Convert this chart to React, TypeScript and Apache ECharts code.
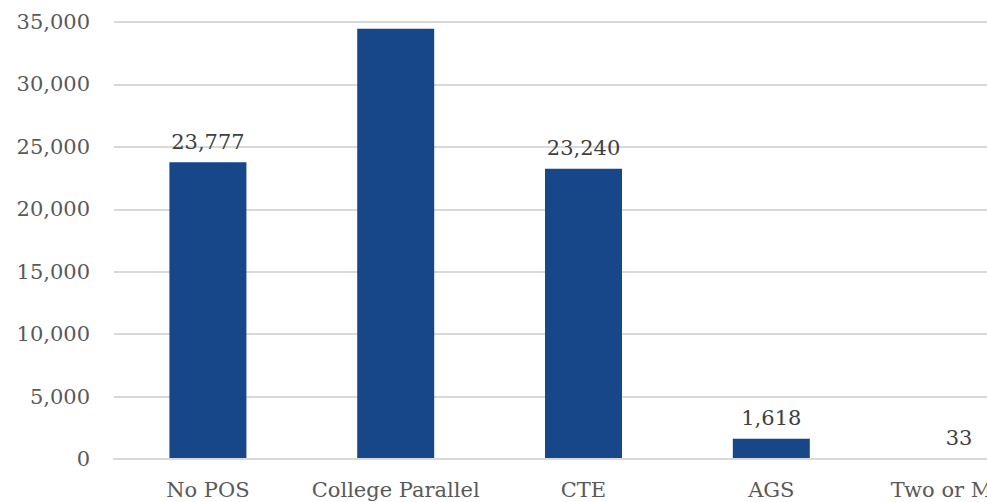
import React, { useEffect, useRef } from "react";
import * as echarts from "echarts";

// Enrollment by program of study
const categories = ["No POS", "College Parallel", "CTE", "AGS", "Two or More"];
const counts = [23777, 34450, 23240, 1618, 33];
// Which bars carry a value label
const showLabel = [true, false, true, true, true];
const yTicks = { min: 0, max: 35000, interval: 5000 };

const FONT = "'DejaVu Serif', Georgia, serif";
const TEXT = "#595959";

export default function App() {
  const ref = useRef<HTMLDivElement>(null);

  useEffect(() => {
    if (!ref.current) return;
    const chart = echarts.init(ref.current, null, { renderer: "svg" });
    chart.setOption({
      animation: false,
      backgroundColor: "#ffffff",
      grid: { left: 114, right: 0, top: 22, bottom: 43, containLabel: false },
      xAxis: {
        type: "category",
        data: categories,
        z: 5,
        axisTick: { show: false },
        axisLine: { lineStyle: { color: "#d9d9d9", width: 2 } },
        axisLabel: {
          color: TEXT,
          fontFamily: FONT,
          fontSize: 21,
          margin: 20,
          interval: 0,
        },
      },
      yAxis: {
        type: "value",
        min: yTicks.min,
        max: yTicks.max,
        interval: yTicks.interval,
        axisLine: { show: false },
        axisTick: { show: false },
        splitLine: { lineStyle: { color: "#d9d9d9", width: 2 } },
        axisLabel: {
          color: TEXT,
          fontFamily: FONT,
          fontSize: 21,
          margin: 24,
          formatter: (v: number) => v.toLocaleString("en-US"),
        },
      },
      series: [
        {
          type: "bar",
          barWidth: "41%",
          itemStyle: { color: "#174689" },
          data: counts.map((v, i) => ({
            value: v,
            label: {
              show: showLabel[i],
              position: "top",
              distance: 10,
              color: "#404040",
              fontFamily: FONT,
              fontSize: 21,
              formatter: (p: any) => Number(p.value).toLocaleString("en-US"),
            },
          })),
        },
      ],
    });
    return () => chart.dispose();
  }, []);

  return (
    <div
      style={{
        position: "absolute",
        left: 0,
        top: 0,
        width: 987,
        height: 502,
        overflow: "hidden",
        background: "#fff",
      }}
    >
      <div ref={ref} style={{ width: 1053, height: 502 }} />
    </div>
  );
}
